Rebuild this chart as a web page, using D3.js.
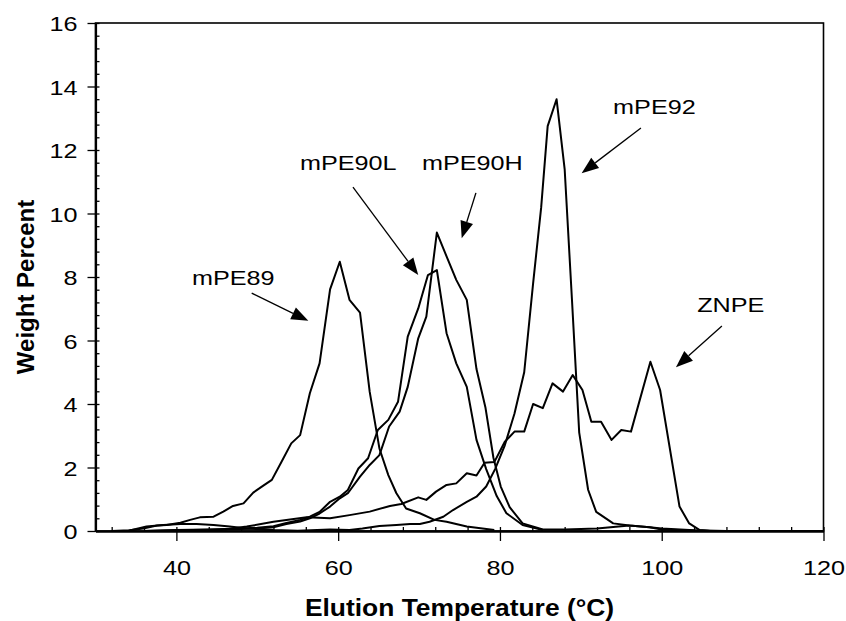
<!DOCTYPE html>
<html><head><meta charset="utf-8">
<script src="https://cdn.jsdelivr.net/npm/d3@7"></script>
<style>body{margin:0;background:#fff}svg{display:block}text{font-family:"Liberation Sans",Arial,sans-serif;fill:#000}</style>
</head><body><svg id="c" width="846" height="621"></svg>
<script>
// ---- data (Elution Temperature °C, Weight Percent) ----
const mPE89 = [[32.0,0],[34.2,0.02],[35.9,0.08],[37.6,0.17],[38.8,0.19],[40.5,0.26],[41.7,0.35],[42.9,0.43],[44.6,0.45],[45.8,0.61],[47.0,0.79],[48.3,0.87],[49.5,1.21],[50.7,1.42],[51.8,1.61],[53.0,2.18],[54.2,2.76],[55.3,3.02],[56.5,4.34],[57.7,5.28],[59.0,7.61],[60.2,8.48],[61.4,7.28],[62.7,6.88],[63.9,4.38],[65.1,2.6],[66.2,1.76],[67.2,1.19],[68.4,0.71],[70.1,0.56],[71.9,0.35],[73.4,0.29],[75.9,0.14],[79.3,0.03]];
const mPE90L = [[36,0],[40,0.03],[44,0.05],[48,0.08],[50,0.1],[52,0.15],[53.6,0.25],[55.3,0.35],[56.5,0.45],[57.7,0.6],[59.0,0.92],[60.2,1.08],[61.2,1.29],[62.5,1.97],[63.7,2.29],[64.9,3.18],[66.2,3.5],[67.4,4.07],[68.6,6.12],[69.9,7.01],[71.1,8.06],[72.2,8.22],[73.4,6.23],[74.6,5.28],[75.9,4.54],[77.1,2.87],[78.3,1.95],[79.6,1.1],[80.8,0.56],[82.8,0.19],[85.3,0.03]];
const mPE90H = [[36,0],[40,0.02],[44,0.04],[48,0.06],[50,0.08],[52,0.12],[53.6,0.22],[55.3,0.3],[56.5,0.4],[57.7,0.55],[59.0,0.77],[60.2,1.03],[61.2,1.19],[62.7,1.71],[63.9,2.08],[65.1,2.39],[66.3,3.29],[67.6,3.76],[68.6,4.54],[69.9,6.07],[70.9,6.75],[72.2,9.4],[73.4,8.65],[74.6,7.91],[75.9,7.28],[77.1,5.1],[78.2,3.9],[79.2,2.3],[80.1,1.4],[81.2,0.75],[82.8,0.24],[85.3,0.05],[88,0.05],[92,0.08],[96,0.17],[98.5,0.12],[100,0.05],[103,0.02],[106,0]];
const mPE92 = [[34,0],[36.3,0.14],[38.4,0.19],[40.5,0.22],[42.5,0.22],[44.6,0.19],[46.6,0.14],[48.7,0.08],[52,0.03],[55,0.01],[59,0.05],[61.4,0.03],[63,0.08],[65.1,0.16],[67.2,0.19],[68.9,0.22],[70.1,0.22],[71.3,0.29],[73.0,0.45],[74.2,0.66],[75.9,0.92],[77.1,1.08],[78.3,1.4],[79.4,1.95],[80.6,2.7],[81.8,3.7],[83.0,5.0],[84.1,7.8],[85.1,10.2],[85.9,12.75],[87.0,13.6],[88.0,11.4],[88.9,7.3],[89.8,3.1],[90.9,1.3],[91.9,0.6],[94.0,0.24],[96.0,0.17],[98.5,0.12],[100,0.08],[104,0.02],[108,0]];
const ZNPE = [[44,0],[46,0.05],[48.7,0.14],[52.0,0.29],[56.1,0.43],[59.0,0.4],[61.4,0.5],[63.9,0.61],[66.4,0.79],[67.8,0.85],[69.9,1.06],[70.9,0.98],[72.1,1.24],[73.4,1.45],[74.6,1.5],[75.9,1.82],[77.1,1.75],[78.1,2.15],[79.3,2.17],[80.6,2.81],[81.8,3.13],[83.0,3.13],[84.1,4.0],[85.3,3.87],[86.5,4.65],[87.8,4.39],[89.0,4.91],[90.2,4.44],[91.3,3.44],[92.5,3.44],[93.8,2.87],[95.0,3.18],[96.2,3.13],[98.6,5.33],[99.8,4.44],[102.2,0.77],[103.4,0.24],[104.7,0.03],[106,0],[120,0]];
const seriesNames = ["mPE89","mPE90L","mPE90H","mPE92","ZNPE"];
const seriesData = [mPE89, mPE90L, mPE90H, mPE92, ZNPE];
// annotation labels: [text, label T, label W, arrow-start T, W, arrow-tip T, W]
const annotations = [
  ["mPE89", 41.93, 7.75, 49.31, 7.49, 56.31, 6.62],
  ["mPE90L", 55.28, 11.37, 61.83, 10.83, 69.90, 8.06],
  ["mPE90H", 70.36, 11.37, 77.03, 10.65, 75.27, 9.22],
  ["mPE92", 93.99, 13.13, 97.43, 12.69, 90.10, 11.27],
  ["ZNPE", 104.38, 6.90, 107.44, 6.46, 101.76, 5.16]
];
const xMajor = [40,60,80,100,120];
const yMajor = [0,2,4,6,8,10,12,14,16];

const svg = d3.select("#c");
const x = d3.scaleLinear().domain([30,120]).range([95.5,823.5]);
const y = d3.scaleLinear().domain([0,16]).range([531,23]);
const SX = 1.2;

// minor ticks
const xMinor = d3.range(32,121,4);
const yMinor = d3.range(0,16.01,0.4);
svg.append("g").attr("transform","translate(0,531)")
  .call(d3.axisBottom(x).tickValues(xMinor).tickSize(-4).tickSizeOuter(0).tickFormat(""))
  .call(g=>g.select(".domain").remove()).selectAll("line").attr("stroke-width",1.3);
svg.append("g").attr("transform","translate(95.5,0)")
  .call(d3.axisLeft(y).tickValues(yMinor).tickSize(-4).tickSizeOuter(0).tickFormat(""))
  .call(g=>g.select(".domain").remove()).selectAll("line").attr("stroke-width",1.3);

// frame
svg.append("rect").attr("x",x(30)).attr("y",y(16)).attr("width",x(120)-x(30)).attr("height",y(0)-y(16))
  .attr("fill","none").attr("stroke","#000").attr("stroke-width",1.6);

// major axes
const xa = svg.append("g").attr("transform","translate(0,531)")
  .call(d3.axisBottom(x).tickValues(xMajor).tickSize(10).tickSizeOuter(0).tickFormat(d3.format("d")));
xa.select(".domain").attr("stroke-width",2.4);
xa.selectAll("line").attr("stroke-width",1.3);
xa.selectAll("text").attr("y",44).attr("dy",null).attr("font-size",21)
  .attr("font-family","Liberation Sans, Arial, sans-serif")
  .attr("transform",`scale(${SX},1)`);
const ya = svg.append("g").attr("transform","translate(95.5,0)")
  .call(d3.axisLeft(y).tickValues(yMajor).tickSize(8).tickSizeOuter(0).tickFormat(d3.format("d")));
ya.select(".domain").attr("stroke-width",2.2);
ya.selectAll("line").attr("stroke-width",1.3);
ya.selectAll("text").attr("x",-15).attr("dy","0.36em").attr("font-size",21)
  .attr("font-family","Liberation Sans, Arial, sans-serif")
  .attr("transform",`scale(${SX},1)`);

// lines
const line = d3.line().x(d=>x(d[0])).y(d=>y(d[1]));
svg.append("g").selectAll("path").data(seriesData).join("path")
  .attr("d",line).attr("fill","none").attr("stroke","#000").attr("stroke-width",2).attr("stroke-linejoin","round");

// annotations
const ag = svg.append("g");
annotations.forEach(a=>{
  const tx=x(a[1]), ty=y(a[2]);
  ag.append("text").attr("x",0).attr("y",0).attr("font-size",21)
    .attr("transform",`translate(${tx},${ty}) scale(${SX},1)`).text(a[0]);
  const x1=x(a[3]), y1=y(a[4]), x2=x(a[5]), y2=y(a[6]);
  const ang=Math.atan2(y2-y1,x2-x1), L=17, H=6.5;
  const bx=x2-L*Math.cos(ang), by=y2-L*Math.sin(ang);
  ag.append("line").attr("x1",x1).attr("y1",y1).attr("x2",bx).attr("y2",by).attr("stroke","#000").attr("stroke-width",1.3);
  ag.append("path").attr("d",`M${x2},${y2}L${bx+H*Math.sin(ang)},${by-H*Math.cos(ang)}L${bx-H*Math.sin(ang)},${by+H*Math.cos(ang)}Z`).attr("fill","#000");
});

// axis titles
svg.append("text").attr("font-size",24).attr("font-weight","bold").attr("text-anchor","middle")
  .attr("transform",`translate(${(x(30)+x(120))/2},616) scale(1.1,1)`).text("Elution Temperature (°C)");
svg.append("text").attr("font-size",24).attr("font-weight","bold").attr("text-anchor","middle")
  .attr("transform","translate(34,287) rotate(-90)").text("Weight Percent");
</script></body></html>
